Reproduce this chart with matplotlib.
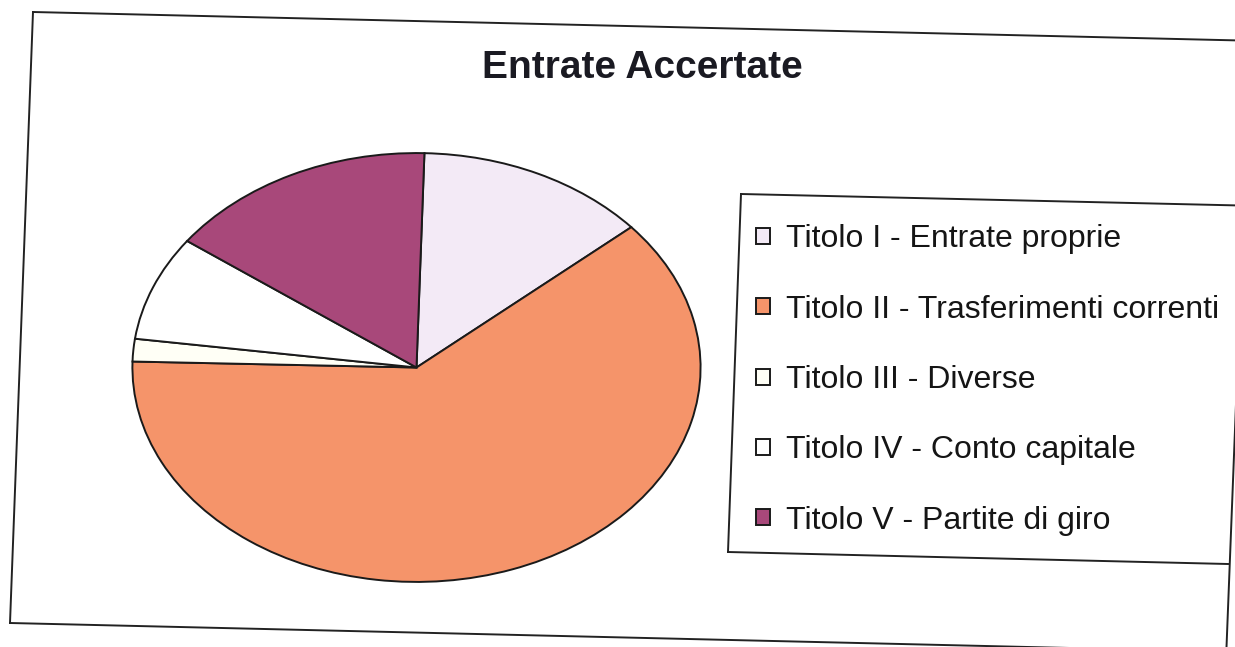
import matplotlib.pyplot as plt
from matplotlib.lines import Line2D

plt.rcParams['font.family'] = ['Liberation Sans', 'DejaVu Sans']

titoli = ['Titolo I - Entrate proprie',
          'Titolo II - Trasferimenti correnti',
          'Titolo III - Diverse',
          'Titolo IV - Conto capitale',
          'Titolo V - Partite di giro']
quote = [13.2, 61.8, 1.7, 7.9, 15.4]
colori = ['#f3eaf6', '#f5946a', '#fffff6', '#ffffff', '#a8487a']

W, H = 1235, 647
fig = plt.figure(figsize=(W / 100, H / 100), dpi=100)

# cornice esterna (la scansione e' leggermente ruotata)
def linea(x0, y0, x1, y1):
    fig.add_artist(Line2D([x0 / W, x1 / W], [1 - y0 / H, 1 - y1 / H],
                          transform=fig.transFigure, color='#222222', lw=1.4))

linea(33, 12, 1262, 41)
linea(33, 12, 10, 623)
linea(10, 623, 1240, 652)
linea(1251, 20, 1226, 660)

# riquadro legenda
linea(741, 194, 1262, 206)
linea(741, 194, 728, 552)
linea(728, 552, 1228, 564)

fig.text(642 / W, 1 - 68 / H, 'Entrate Accertate', ha='center', va='center',
         fontsize=28, fontweight='bold', color='#1a1a22')

ax = fig.add_axes([131 / W, 1 - 583 / H, 571 / W, 431 / H])
spicchi, _ = ax.pie(quote, colors=colori, startangle=88.4, counterclock=False,
                    wedgeprops=dict(edgecolor='#1a1a1a', linewidth=1.4))
ax.set_aspect('auto')
ax.set_xlim(-1.005, 1.005)
ax.set_ylim(-1.005, 1.005)
ax.axis('off')

fig.legend(spicchi, titoli, loc='center left', bbox_to_anchor=(756 / W, 1 - 380 / H),
           frameon=False, fontsize=23, labelspacing=1.26, handlelength=0.45,
           handleheight=0.4, handletextpad=0.5, borderpad=0, borderaxespad=0,
           labelcolor='#151515')

plt.savefig('out.png', dpi=100)
